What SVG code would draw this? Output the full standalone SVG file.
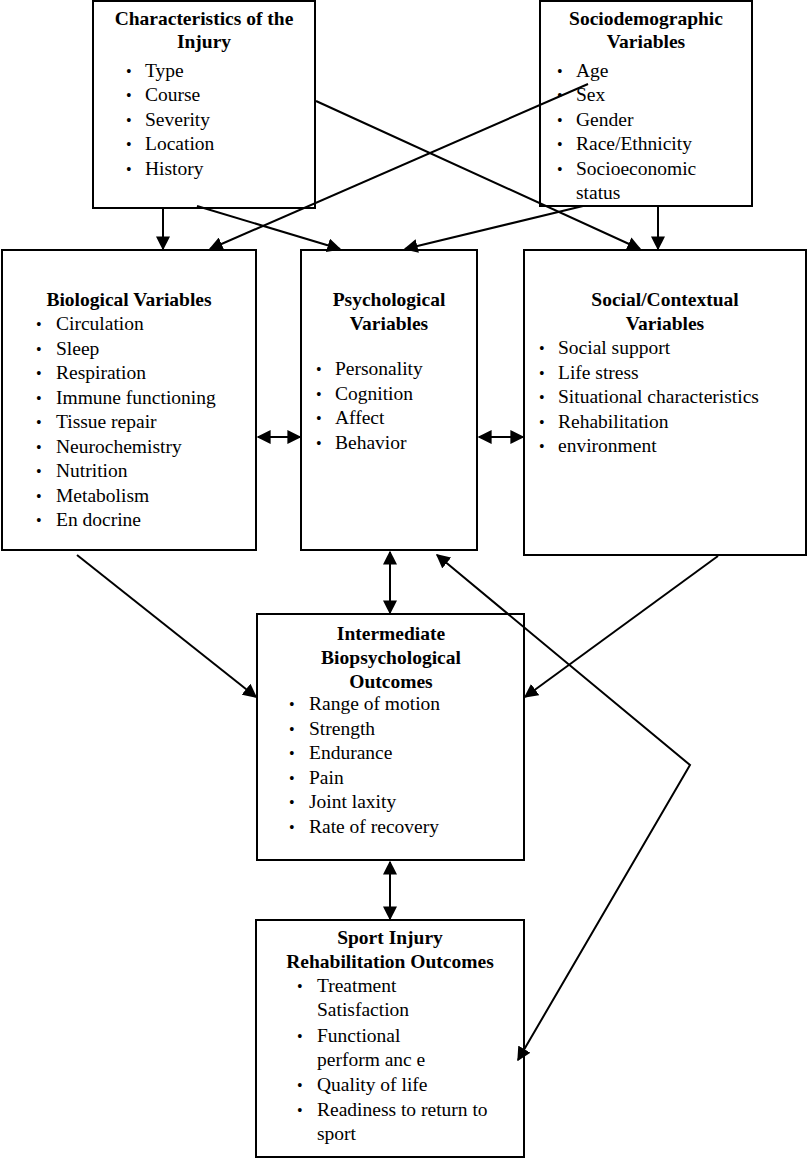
<svg xmlns="http://www.w3.org/2000/svg" width="810" height="1159" viewBox="0 0 810 1159">
<style>
rect{fill:#fff;stroke:#000;stroke-width:2}
text{font-family:"Liberation Serif",serif;font-size:19.5px;fill:#000}
.h{font-weight:bold;text-anchor:middle}
.b{font-size:16px}
.c line,.c polyline{stroke:#000;stroke-width:2;fill:none}
</style>
<defs><marker id="a" viewBox="0 0 10 10" refX="9" refY="5" markerWidth="7" markerHeight="7" orient="auto-start-reverse"><path d="M0,0L10,5L0,10z"/></marker></defs>
<rect x="0" y="0" width="810" height="1159" style="stroke:none"/>
<g id="injury"><rect x="93" y="1" width="222" height="207"/>
<text class="h" x="204" y="25">Characteristics of the</text><text class="h" x="204" y="48">Injury</text>
<text class="b" x="126" y="77">•</text><text x="145" y="77">Type</text>
<text class="b" x="126" y="101">•</text><text x="145" y="101">Course</text>
<text class="b" x="126" y="126">•</text><text x="145" y="126">Severity</text>
<text class="b" x="126" y="150">•</text><text x="145" y="150">Location</text>
<text class="b" x="126" y="175">•</text><text x="145" y="175">History</text></g>
<g id="socio"><rect x="540" y="1" width="212" height="205"/>
<text class="h" x="646" y="25">Sociodemographic</text><text class="h" x="646" y="48">Variables</text>
<text class="b" x="557" y="77">•</text><text x="576" y="77">Age</text>
<text class="b" x="557" y="101">•</text><text x="576" y="101">Sex</text>
<text class="b" x="557" y="126">•</text><text x="576" y="126">Gender</text>
<text class="b" x="557" y="150">•</text><text x="576" y="150">Race/Ethnicity</text>
<text class="b" x="557" y="175">•</text><text x="576" y="175">Socioeconomic</text><text x="576" y="199">status</text></g>
<g id="bio"><rect x="2" y="250" width="254" height="300"/>
<text class="h" x="129" y="306">Biological Variables</text>
<text class="b" x="36" y="330">•</text><text x="56" y="330">Circulation</text>
<text class="b" x="36" y="355">•</text><text x="56" y="355">Sleep</text>
<text class="b" x="36" y="379">•</text><text x="56" y="379">Respiration</text>
<text class="b" x="36" y="404">•</text><text x="56" y="404">Immune functioning</text>
<text class="b" x="36" y="428">•</text><text x="56" y="428">Tissue repair</text>
<text class="b" x="36" y="453">•</text><text x="56" y="453">Neurochemistry</text>
<text class="b" x="36" y="477">•</text><text x="56" y="477">Nutrition</text>
<text class="b" x="36" y="502">•</text><text x="56" y="502">Metabolism</text>
<text class="b" x="36" y="526">•</text><text x="56" y="526">En docrine</text></g>
<g id="psych"><rect x="301" y="250" width="176" height="300"/>
<text class="h" x="389" y="306">Psychological</text><text class="h" x="389" y="330">Variables</text>
<text class="b" x="316" y="375">•</text><text x="335" y="375">Personality</text>
<text class="b" x="316" y="400">•</text><text x="335" y="400">Cognition</text>
<text class="b" x="316" y="424">•</text><text x="335" y="424">Affect</text>
<text class="b" x="316" y="449">•</text><text x="335" y="449">Behavior</text></g>
<g id="social"><rect x="524" y="250" width="282" height="305"/>
<text class="h" x="665" y="306">Social/Contextual</text><text class="h" x="665" y="330">Variables</text>
<text class="b" x="539" y="354">•</text><text x="558" y="354">Social  support</text>
<text class="b" x="539" y="379">•</text><text x="558" y="379">Life stress</text>
<text class="b" x="539" y="403">•</text><text x="558" y="403">Situational characteristics</text>
<text class="b" x="539" y="428">•</text><text x="558" y="428">Rehabilitation</text>
<text class="b" x="539" y="452">•</text><text x="558" y="452">environment</text></g>
<g id="inter"><rect x="257" y="614" width="267" height="246"/>
<text class="h" x="391" y="640">Intermediate</text><text class="h" x="391" y="664">Biopsychological</text><text class="h" x="391" y="688">Outcomes</text>
<text class="b" x="289" y="710">•</text><text x="309" y="710">Range of motion</text>
<text class="b" x="289" y="735">•</text><text x="309" y="735">Strength</text>
<text class="b" x="289" y="759">•</text><text x="309" y="759">Endurance</text>
<text class="b" x="289" y="784">•</text><text x="309" y="784">Pain</text>
<text class="b" x="289" y="808">•</text><text x="309" y="808">Joint laxity</text>
<text class="b" x="289" y="833">•</text><text x="309" y="833">Rate of recovery</text></g>
<g id="sport"><rect x="256" y="920" width="268" height="237"/>
<text class="h" x="390" y="944">Sport Injury</text><text class="h" x="390" y="968">Rehabilitation Outcomes</text>
<text class="b" x="297" y="992">•</text><text x="317" y="992">Treatment</text><text x="317" y="1016">Satisfaction</text>
<text class="b" x="297" y="1042">•</text><text x="317" y="1042">Functional</text><text x="317" y="1066">perform anc e</text>
<text class="b" x="297" y="1091">•</text><text x="317" y="1091">Quality of life</text>
<text class="b" x="297" y="1116">•</text><text x="317" y="1116">Readiness to return to</text><text x="317" y="1140">sport</text></g>
<g class="c">
<line x1="163" y1="208" x2="163" y2="249" marker-end="url(#a)"/>
<line x1="197" y1="206" x2="340" y2="249" marker-end="url(#a)"/>
<line x1="316" y1="101" x2="640" y2="249" marker-end="url(#a)"/>
<line x1="588" y1="84" x2="210" y2="249" marker-end="url(#a)"/>
<line x1="583" y1="206" x2="405" y2="249" marker-end="url(#a)"/>
<line x1="658" y1="206" x2="658" y2="249" marker-end="url(#a)"/>
<line x1="258" y1="437" x2="300" y2="437" marker-start="url(#a)" marker-end="url(#a)"/>
<line x1="479" y1="437" x2="523" y2="437" marker-start="url(#a)" marker-end="url(#a)"/>
<line x1="390" y1="552" x2="390" y2="613" marker-start="url(#a)" marker-end="url(#a)"/>
<line x1="77" y1="555" x2="256" y2="697" marker-end="url(#a)"/>
<line x1="718" y1="556" x2="525" y2="697" marker-end="url(#a)"/>
<line x1="390" y1="862" x2="390" y2="919" marker-start="url(#a)" marker-end="url(#a)"/>
<polyline points="437,555 690,765 518,1060" marker-start="url(#a)" marker-end="url(#a)"/>
</g>
</svg>
